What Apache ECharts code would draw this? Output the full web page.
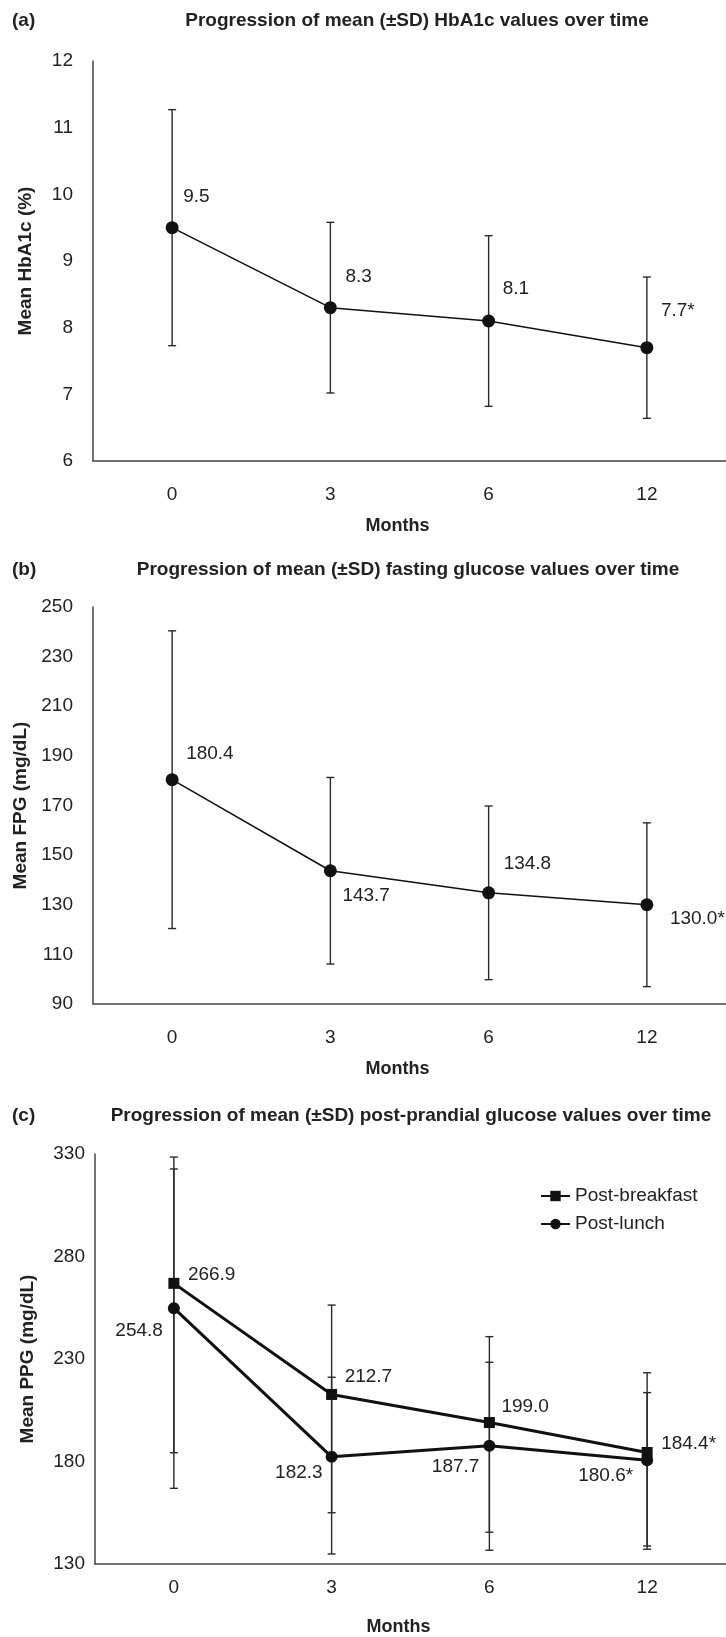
<!DOCTYPE html>
<html><head><meta charset="utf-8">
<script src="https://cdn.jsdelivr.net/npm/echarts@6/dist/echarts.min.js"></script>
<style>html,body{margin:0;padding:0;background:#fff}#c{width:726px;height:1637px}</style>
</head><body><div id="c"></div>
<script>
// ---------- data ----------
const months = ['0', '3', '6', '12'];

const hba1cMean = [9.5, 8.3, 8.1, 7.7];
const hba1cSD   = [1.77, 1.28, 1.28, 1.06];
const hba1cSig  = [false, false, false, true];

const fpgMean = [180.4, 143.7, 134.8, 130.0];
const fpgSD   = [60, 37.6, 35, 33];
const fpgSig  = [false, false, false, true];

const breakfastMean = [266.9, 212.7, 199.0, 184.4];
const breakfastHigh = [328.5, 256.3, 240.9, 223.3];
const breakfastLow  = [184.3, 155.0, 145.5, 138.8];
const lunchMean = [254.8, 182.3, 187.7, 180.6];
const lunchHigh = [322.7, 221.1, 228.4, 213.6];
const lunchLow  = [166.9, 134.9, 136.7, 137.2];
const ppgSig = [false, false, false, true];

const titles = [
  'Progression of mean (\u00b1SD) HbA1c values over time',
  'Progression of mean (\u00b1SD) fasting glucose values over time',
  'Progression of mean (\u00b1SD) post-prandial glucose values over time'
];
const panelTags = ['(a)', '(b)', '(c)'];
const yNames = ['Mean HbA1c (%)', 'Mean FPG (mg/dL)', 'Mean PPG (mg/dL)'];
const xName = 'Months';
const seriesNames = ['Post-breakfast', 'Post-lunch'];

// ---------- styling / layout ----------
const FONT = "'Liberation Sans', Arial, sans-serif";
const TXT = '#222';
const grids = [
  {left: 93, top: 61, width: 650, height: 400},
  {left: 93, top: 607, width: 650, height: 397},
  {left: 95, top: 1154, width: 640, height: 410}
];
const yRanges = [{min: 6, max: 12, interval: 1}, {min: 90, max: 250, interval: 20}, {min: 130, max: 330, interval: 50}];
const yLabelMargin = [20, 20, 10];
const xLabelMargin = [24, 24, 14];
const xNameGap = [56, 56, 54];
const yNameGap = [58, 58, 58];
const titlePos = [[417, 21], [408, 570], [411, 1116]];

const offA = [[11, -31], [15, -31], [14, -32], [14, -37]];
const offB = [[14, -26], [12, 25], [15, -29], [23, 14]];
const offBreak = [[14, -9], [13, -18], [12, -16], [14, -9]];
const offLunch = [[-11, 23], [-9, 16], [-10, 21], [-14, 15]];

function fmt(v, sig) { return v.toFixed(1) + (sig ? '*' : ''); }

function errRender(params, api) {
  const x = api.value(0), lo = api.value(1), hi = api.value(2);
  const pLo = api.coord([x, lo]), pHi = api.coord([x, hi]);
  const cap = 4;
  const style = {stroke: '#2a2a2a', lineWidth: 1.4};
  return {type: 'group', children: [
    {type: 'line', shape: {x1: pLo[0], y1: pLo[1], x2: pHi[0], y2: pHi[1]}, style},
    {type: 'line', shape: {x1: pLo[0] - cap, y1: pLo[1], x2: pLo[0] + cap, y2: pLo[1]}, style},
    {type: 'line', shape: {x1: pHi[0] - cap, y1: pHi[1], x2: pHi[0] + cap, y2: pHi[1]}, style}
  ]};
}

function labeled(means, sig, offs, align) {
  return means.map((v, i) => ({
    value: v,
    label: {show: true, position: 'inside', offset: offs[i], align: align, verticalAlign: 'middle',
            formatter: fmt(v, sig[i]), color: TXT, fontSize: 19, fontFamily: FONT}
  }));
}

const xAxes = grids.map((g, i) => ({
  type: 'category', gridIndex: i, data: months, boundaryGap: true,
  axisLine: {show: true, lineStyle: {color: '#444', width: 1.5}},
  axisTick: {show: false},
  axisLabel: {color: TXT, fontSize: 19, fontFamily: FONT, margin: xLabelMargin[i]},
  name: xName, nameLocation: 'middle', nameGap: xNameGap[i],
  nameTextStyle: {color: TXT, fontSize: 18, fontWeight: 'bold', fontFamily: FONT, padding: [0, 24, 0, 0]}
}));
const yAxes = grids.map((g, i) => ({
  type: 'value', gridIndex: i, min: yRanges[i].min, max: yRanges[i].max, interval: yRanges[i].interval,
  axisLine: {show: true, lineStyle: {color: '#444', width: 1.5}},
  axisTick: {show: false}, splitLine: {show: false},
  axisLabel: {color: TXT, fontSize: 19, fontFamily: FONT, margin: yLabelMargin[i]},
  name: yNames[i], nameLocation: 'middle', nameGap: yNameGap[i],
  nameTextStyle: {color: TXT, fontSize: 19, fontWeight: 'bold', fontFamily: FONT}
}));

const series = [
  {type: 'custom', xAxisIndex: 0, yAxisIndex: 0, renderItem: errRender, z: 1, silent: true,
   data: months.map((m, i) => [i, hba1cMean[i] - hba1cSD[i], hba1cMean[i] + hba1cSD[i]])},
  {type: 'line', xAxisIndex: 0, yAxisIndex: 0, z: 3, symbol: 'circle', symbolSize: 13,
   itemStyle: {color: '#111'}, lineStyle: {color: '#111', width: 1.5},
   data: labeled(hba1cMean, hba1cSig, offA, 'left')},

  {type: 'custom', xAxisIndex: 1, yAxisIndex: 1, renderItem: errRender, z: 1, silent: true,
   data: months.map((m, i) => [i, fpgMean[i] - fpgSD[i], fpgMean[i] + fpgSD[i]])},
  {type: 'line', xAxisIndex: 1, yAxisIndex: 1, z: 3, symbol: 'circle', symbolSize: 13,
   itemStyle: {color: '#111'}, lineStyle: {color: '#111', width: 1.5},
   data: labeled(fpgMean, fpgSig, offB, 'left')},

  {type: 'custom', xAxisIndex: 2, yAxisIndex: 2, renderItem: errRender, z: 1, silent: true,
   data: months.map((m, i) => [i, breakfastLow[i], breakfastHigh[i]])},
  {type: 'custom', xAxisIndex: 2, yAxisIndex: 2, renderItem: errRender, z: 1, silent: true,
   data: months.map((m, i) => [i, lunchLow[i], lunchHigh[i]])},
  {name: seriesNames[0], type: 'line', xAxisIndex: 2, yAxisIndex: 2, z: 3, symbol: 'rect', symbolSize: 11,
   itemStyle: {color: '#111'}, lineStyle: {color: '#111', width: 3},
   data: labeled(breakfastMean, ppgSig, offBreak, 'left')},
  {name: seriesNames[1], type: 'line', xAxisIndex: 2, yAxisIndex: 2, z: 3, symbol: 'circle', symbolSize: 12,
   itemStyle: {color: '#111'}, lineStyle: {color: '#111', width: 3},
   data: labeled(lunchMean, ppgSig, offLunch, 'right')}
];

const graphic = [];
titles.forEach((t, i) => {
  graphic.push({type: 'text', x: titlePos[i][0], y: titlePos[i][1], silent: true,
    style: {text: t, fill: TXT, font: 'bold 19px ' + FONT, align: 'center', verticalAlign: 'middle',
            textAlign: 'center', textVerticalAlign: 'middle'}});
  graphic.push({type: 'text', x: 12, y: titlePos[i][1], silent: true,
    style: {text: panelTags[i], fill: TXT, font: 'bold 19px ' + FONT, align: 'left', verticalAlign: 'middle',
            textAlign: 'left', textVerticalAlign: 'middle'}});
});

const chart = echarts.init(document.getElementById('c'), null, {renderer: 'canvas'});
chart.setOption({
  animation: false,
  backgroundColor: '#fff',
  grid: grids,
  xAxis: xAxes,
  yAxis: yAxes,
  legend: {
    data: seriesNames, orient: 'vertical', left: 535, top: 1181,
    itemWidth: 29, itemHeight: 13, itemGap: 8,
    textStyle: {color: TXT, fontSize: 19, fontFamily: FONT, lineHeight: 20}
  },
  graphic: graphic,
  series: series
});
</script>
</body></html>
